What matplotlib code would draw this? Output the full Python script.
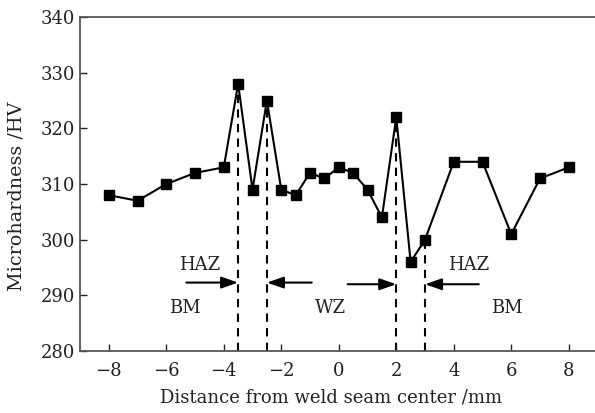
import numpy as np
import matplotlib
matplotlib.use("Agg")
import matplotlib.pyplot as plt

# measured points
distance = [-8, -7, -6, -5, -4, -3.5, -3, -2.5, -2, -1.5, -1, -0.5,
            0, 0.5, 1, 1.5, 2, 2.5, 3, 4, 5, 6, 7, 8]
hardness = [308, 307, 310, 312, 313, 328, 309, 325, 309, 308, 312, 311,
            313, 312, 309, 304, 322, 296, 300, 314, 314, 301, 311, 313]

# zone boundaries (dashed lines)
boundaries = [-3.5, -2.5, 2, 3]
boundary_tops = [328, 325, 322, 300]

# zone labels
zone_labels = ["HAZ", "BM", "WZ", "HAZ", "BM"]
zone_x = [-4.83, -5.36, -0.29, 4.52, 5.84]
zone_y = [295.5, 287.7, 287.7, 295.5, 287.7]

# arrows (start -> end)
arrow_from = [(-5.3, 292.3), (-0.94, 292.3), (0.31, 292.0), (4.87, 292.0)]
arrow_to = [(-3.5, 292.3), (-2.5, 292.3), (2.0, 292.0), (3.0, 292.0)]

plt.rcParams["font.family"] = "DejaVu Serif"

fig = plt.figure(figsize=(5.95, 4.13), dpi=100)
ax = fig.add_axes([0.1345, 0.150, 0.8697, 0.8087])

ax.plot(distance, hardness, color="black", lw=1.5, marker="s", ms=6.5)

for xb, yt in zip(boundaries, boundary_tops):
    ax.plot([xb, xb], [280, yt], color="black", lw=1.5, ls=(0, (4, 3)), zorder=1)

for (x0, y0), (x1, y1) in zip(arrow_from, arrow_to):
    ax.annotate("", xy=(x1, y1), xytext=(x0, y0),
                arrowprops=dict(arrowstyle="-|>,head_length=1.0,head_width=0.35",
                                color="black", lw=1.5, shrinkA=0, shrinkB=0))

for lab, x, y in zip(zone_labels, zone_x, zone_y):
    ax.text(x, y, lab, ha="center", va="center", fontsize=13, color="#222222")

ax.set_xlim(-9, 9)
ax.set_ylim(280, 340)
ax.set_xticks(np.arange(-8, 9, 2))
ax.set_yticks(np.arange(280, 341, 10))
ax.tick_params(direction="in", length=5, width=1, labelsize=13, colors="#222222")
ax.tick_params(axis="x", pad=8)
ax.spines["right"].set_visible(False)
for s in ["left", "top", "bottom"]:
    ax.spines[s].set_color("#555555")
    ax.spines[s].set_linewidth(1.3)

ax.set_xlabel("Distance from weld seam center /mm", fontsize=13, color="#222222")
ax.set_ylabel("Microhardness /HV", fontsize=13.8, color="#222222")
ax.xaxis.set_label_coords(0.485, -0.111)
ax.yaxis.set_label_coords(-0.106, 0.464)

fig.savefig("out.png", dpi=100)
